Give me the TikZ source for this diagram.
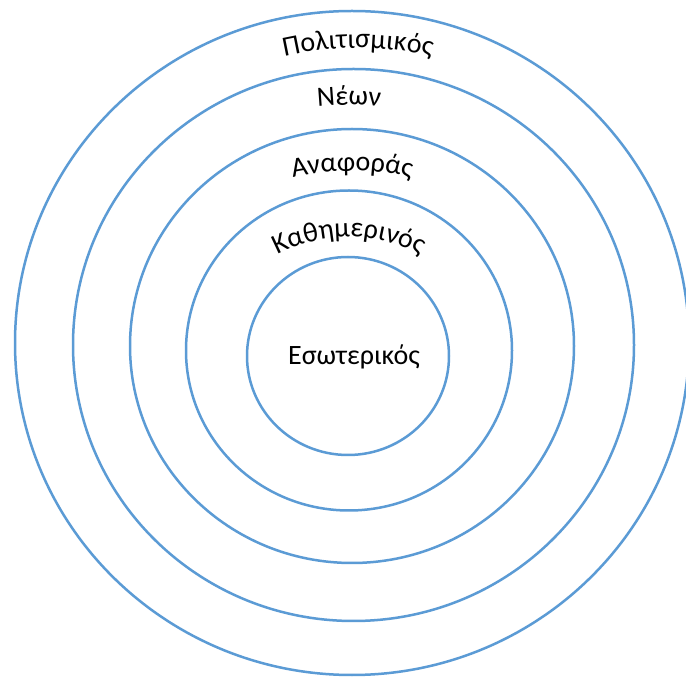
\documentclass[tikz,border=0pt]{standalone}
\usepackage{fontspec}
\setmainfont{Carlito}
\usetikzlibrary{decorations.text}
\newcommand{\gfont}{\fontsize{28}{33}\selectfont}
\tikzset{
  ring/.style={draw=ringblue, line width=2.5pt},
  archlabel/.style={decorate, decoration={text along path, text align=center, text={#1}}}
}
\definecolor{ringblue}{HTML}{5B9BD5}
\begin{document}
\begin{tikzpicture}[x=1pt,y=1pt]
\useasboundingbox (0,0) rectangle (686,678);
\clip (0,0) rectangle (686,678);
\fill[white] (0,0) rectangle (686,678);
% rings
\path[ring] (352,335) ellipse [x radius=337pt, y radius=332pt];
\path[ring] (353.5,333) ellipse [x radius=280.5pt, y radius=276pt];
\path[ring] (352,332) ellipse [x radius=222pt, y radius=217pt];
\path[ring] (349,327.5) ellipse [x radius=163pt, y radius=160pt];
\path[ring] (348,322) ellipse [x radius=101pt, y radius=99pt];
% arched labels
\coordinate (c1) at (358,300);
\coordinate (c2) at (349,273);
\coordinate (c3) at (352,227);
\coordinate (c4) at (349,287);
\path[archlabel={|\gfont|Πολιτισμικός}] ([shift={(140:330pt)}]c1) arc[start angle=140, end angle=40, radius=330pt];
\path[archlabel={|\gfont|Νέων}] ([shift={(130:300pt)}]c2) arc[start angle=130, end angle=50, radius=300pt];
\path[archlabel={|\gfont|Αναφοράς}] ([shift={(130:280pt)}]c3) arc[start angle=130, end angle=50, radius=280pt];
\path[archlabel={|\gfont|Καθημερινός}] ([shift={(160:154pt)}]c4) arc[start angle=160, end angle=20, radius=154pt];
\node[anchor=base, font=\gfont, inner sep=0pt] (inner) at (354,313) {Εσωτερικός};
\end{tikzpicture}
\end{document}
